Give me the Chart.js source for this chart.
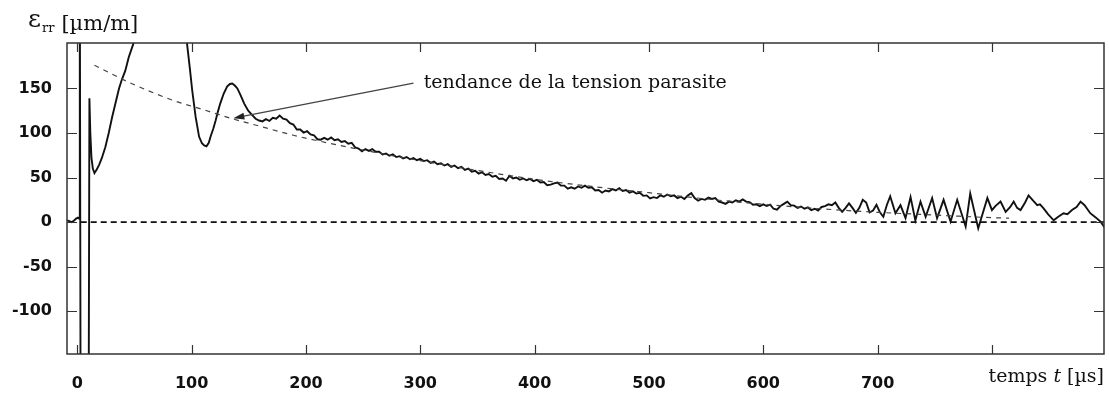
<!DOCTYPE html>
<html>
<head>
<meta charset="utf-8">
<script src="https://cdn.jsdelivr.net/npm/chart.js@4.4.0/dist/chart.umd.min.js"></script>
<style>
  html, body { margin: 0; padding: 0; background: #fff; }
  #wrap { width: 1109px; height: 399px; }
</style>
</head>
<body>
<div id="wrap"><canvas id="strainChart" width="1109" height="399"></canvas></div>
<script>
// measured strain, time in µs
var sigT = [
  -9, -7, -5, -3, -1, 0.5, 1.5, 2.2, 3.0, 9.8, 10.6, 11.4, 12.4, 13.6, 15, 17, 19, 21.5,
  24.5, 27.5, 30.5, 33.5, 36.5, 39, 42, 45, 49, 55, 62, 70, 78, 86, 92, 96, 98.5, 100.5,
  103.5, 106.5, 109, 111, 113, 115, 116.6, 119, 121, 123, 125, 128, 131, 133.5, 135.6, 138,
  140, 143, 146, 149.5, 153, 156, 159,
  162, 165, 168, 171, 174, 177, 180, 183, 186, 189, 192, 195, 198, 201, 204, 207, 210, 213,
  216, 219, 222, 225, 228, 231, 234, 237, 240, 243, 246, 249, 252, 255, 258, 261, 264, 267,
  270, 273, 276, 279, 282, 285, 288, 291, 294, 297, 300, 303, 306, 309, 312, 315, 318, 321,
  324, 327, 330, 333, 336, 339, 342, 345, 348, 351, 354, 357, 360, 363, 366, 369, 372, 375,
  378, 381, 384, 387, 390, 393, 396, 399, 402, 405, 408, 411, 414, 417, 420, 423, 426, 429,
  432, 435, 438, 441, 444, 447, 450, 453, 456, 459, 462, 465, 468, 471, 474, 477, 480, 483,
  486, 489, 492, 495, 498, 501, 504, 507, 510, 513, 516, 519, 522, 525, 528, 531, 534, 537,
  540, 543, 546, 549, 552, 555, 558, 561, 564, 567, 570, 573, 576, 579, 582, 585, 588, 591,
  594, 597, 600, 603, 606, 609, 612, 615, 618, 621, 624, 627, 630, 633, 636, 639, 642, 645,
  648, 651, 654, 657, 660, 663, 666, 669, 672, 675, 678, 681, 684, 687, 690, 693, 696, 699,
  702, 705, 708, 711,
  715.6, 720, 724.4, 728.8, 733, 737.5, 742, 747.7, 752, 757.7, 763.8, 769.6, 777, 781, 788,
  796, 800, 803, 807.5, 812, 816, 819, 822, 825, 829, 832, 836, 839.6, 842, 845, 849, 854,
  858, 862.6, 866, 870, 874, 877.5, 881, 886, 891, 895, 899
];
var sigV = [
  2, 1, 0, 1.5, 4, 5, 4, 300, -300, -300, 139, 100, 72, 60, 55, 59, 64, 72,
  84, 100, 118, 134, 150, 160, 170, 185, 200, 240, 270, 285, 280, 255, 225, 200, 172, 148,
  118, 96, 88.5, 86, 85, 89, 96, 105, 114, 124, 133, 144, 152, 155, 155.5, 153,
  150, 142, 133, 125, 120, 116, 114,
  113, 115.5, 113.5, 117, 116, 119.5, 116, 115, 111, 109.5, 104, 104, 100.5, 102, 98.5, 97.5, 93, 92.5,
  94.5, 92.5, 95, 92, 93, 90, 91, 88, 89, 84, 82.5, 79.5, 82, 80, 82, 79, 79, 76,
  77, 74.5, 76, 73, 74, 71.5, 73, 70.5, 72, 69.5, 71, 68.5, 69.5, 66.5, 68, 65, 66, 63.5,
  65, 62, 63.5, 60.5, 62, 58.5, 60, 56.5, 57.5, 54.5, 56, 53, 54, 51, 52, 48.5, 49, 46.5,
  52, 49, 50, 47.5, 49, 47, 48.5, 46, 47.5, 44.5, 45, 41.5, 42, 43.5, 44.5, 41, 41, 37.5,
  39, 37.5, 40, 38.5, 41, 38.5, 39, 35.5, 36, 33, 35.5, 34.5, 37, 35.5, 38, 35, 36, 33,
  34.5, 32, 33, 29.5, 30, 26.5, 28, 27, 30, 28.5, 31, 29, 30, 27, 28.5, 26, 30, 32.5,
  27, 24, 26, 25, 27.5, 26, 27, 23, 22, 20.5, 23, 22, 24.5, 23, 25.5, 23, 22.5, 19.5,
  20, 18, 20, 18, 19.5, 15, 14, 18, 20.5, 23, 19, 18.5, 16, 17.5, 15, 16.5, 13.5, 15,
  13, 17, 18, 20, 19, 22, 16, 11.5, 16, 21, 16, 10.5, 16, 25, 22, 11, 13, 19.5,
  11, 6, 19, 29,
  10, 19, 4.5, 28, 2, 23, 6, 27, 4.5, 25, 0.5, 25, -5, 32, -7,
  27, 13.5, 18, 23, 11.5, 17, 23, 16, 13.5, 22, 30, 24, 19, 20, 15.7, 9, 2,
  6, 10, 9, 13.5, 17, 23, 19, 10, 5, 0.5, -7
];

// fitted trend of the parasitic strain
var trendT = [15, 45, 83, 112, 133, 160, 189, 230, 270, 300, 350, 400, 450, 500, 550, 600, 650, 700, 750, 800, 815];
var trendV = [176, 157, 137, 125.5, 117, 107.5, 97.5, 86, 76, 69, 58, 48, 40, 33, 26, 20, 15, 11, 8, 5, 4.5];

// zero reference
var zeroT = [3, 899];
var zeroV = [0, 0];

var xTicks = [0, 100, 200, 300, 400, 500, 600, 700, 800];
var yTicks = [-100, -50, 0, 50, 100, 150];

var annoText = 'tendance de la tension parasite';
var annoLabel = [303, 150];
var annoFrom = [294, 156];
var annoTo = [136.5, 116.6];

function pairs(ts, vs) {
    return ts.map(function(t, i) { return {x: t, y: vs[i]}; });
}

var decorPlugin = {
    id: 'decor',
    afterDatasetsDraw: function(chart) {
        var ctx = chart.ctx;
        var a = chart.chartArea;
        var xs = chart.scales.x, ys = chart.scales.y;
        ctx.save();

        // frame and inward ticks on all four sides
        ctx.strokeStyle = '#333';
        ctx.lineWidth = 1.5;
        ctx.strokeRect(a.left, a.top, a.right - a.left, a.bottom - a.top);
        ctx.lineWidth = 1.2;
        ctx.beginPath();
        xTicks.forEach(function(v) {
            var px = Math.round(xs.getPixelForValue(v)) + 0.5;
            ctx.moveTo(px, a.bottom); ctx.lineTo(px, a.bottom - 9);
            ctx.moveTo(px, a.top); ctx.lineTo(px, a.top + 9);
        });
        yTicks.forEach(function(v) {
            var py = Math.round(ys.getPixelForValue(v)) + 0.5;
            ctx.moveTo(a.left, py); ctx.lineTo(a.left + 10, py);
            ctx.moveTo(a.right, py); ctx.lineTo(a.right - 10, py);
        });
        ctx.stroke();

        // arrow to the trend line
        var x0 = xs.getPixelForValue(annoFrom[0]), y0 = ys.getPixelForValue(annoFrom[1]);
        var x1 = xs.getPixelForValue(annoTo[0]), y1 = ys.getPixelForValue(annoTo[1]);
        var ang = Math.atan2(y1 - y0, x1 - x0);
        ctx.strokeStyle = '#444';
        ctx.fillStyle = '#222';
        ctx.lineWidth = 1.4;
        ctx.beginPath();
        ctx.moveTo(x0, y0);
        ctx.lineTo(x1 - 8 * Math.cos(ang), y1 - 8 * Math.sin(ang));
        ctx.stroke();
        ctx.beginPath();
        ctx.moveTo(x1, y1);
        ctx.lineTo(x1 - 11 * Math.cos(ang) + 3.5 * Math.sin(ang), y1 - 11 * Math.sin(ang) - 3.5 * Math.cos(ang));
        ctx.lineTo(x1 - 11 * Math.cos(ang) - 3.5 * Math.sin(ang), y1 - 11 * Math.sin(ang) + 3.5 * Math.cos(ang));
        ctx.closePath();
        ctx.fill();

        ctx.fillStyle = '#111';
        ctx.textBaseline = 'alphabetic';
        ctx.textAlign = 'left';
        ctx.font = '19px "DejaVu Serif"';
        ctx.fillText(annoText, xs.getPixelForValue(annoLabel[0]), ys.getPixelForValue(annoLabel[1]));

        // y axis title: ε_rr [µm/m]
        var x = 28;
        ctx.font = '25px "DejaVu Serif"';
        ctx.fillText('ε', x, 27);
        x += ctx.measureText('ε').width + 1;
        ctx.font = '13px "DejaVu Serif"';
        ctx.fillText('rr', x, 32);
        x += ctx.measureText('rr').width + 7;
        ctx.font = '21px "DejaVu Serif"';
        ctx.fillText('[µm/m]', x, 30);

        // x axis title, right aligned on the tick label row
        var parts = [['temps ', '19px "DejaVu Serif"'], ['t', 'italic 19px "DejaVu Serif"'], [' [µs]', '19px "DejaVu Serif"']];
        var total = 0;
        parts.forEach(function(p) { ctx.font = p[1]; total += ctx.measureText(p[0]).width; });
        x = a.right - total;
        parts.forEach(function(p) {
            ctx.font = p[1];
            ctx.fillText(p[0], x, 382);
            x += ctx.measureText(p[0]).width;
        });

        ctx.restore();
    }
};

var ctx = document.getElementById('strainChart');
var strainChart = new Chart(ctx, {
    type: 'line',
    data: {
        datasets: [{
            data: pairs(zeroT, zeroV),
            borderColor: '#111',
            borderWidth: 1.6,
            borderDash: [6, 4],
            pointRadius: 0
        }, {
            data: pairs(trendT, trendV),
            borderColor: '#444',
            borderWidth: 1.2,
            borderDash: [5, 5],
            pointRadius: 0,
            cubicInterpolationMode: 'monotone'
        }, {
            data: pairs(sigT, sigV),
            borderColor: '#111',
            borderWidth: 1.9,
            pointRadius: 0,
            tension: 0
        }]
    },
    plugins: [decorPlugin],
    options: {
        responsive: false,
        animation: false,
        devicePixelRatio: 1,
        layout: { padding: { top: 43, right: 5, left: 0, bottom: 0 } },
        plugins: { legend: { display: false }, tooltip: { enabled: false } },
        scales: {
            x: {
                type: 'linear',
                min: -9,
                max: 898,
                grid: { display: false, drawTicks: false },
                border: { display: false },
                afterBuildTicks: function(scale) {
                    scale.ticks = xTicks.map(function(v) { return {value: v}; });
                },
                afterFit: function(scale) { scale.height = 45; },
                ticks: {
                    padding: 20,
                    maxRotation: 0,
                    autoSkip: false,
                    color: '#111',
                    font: { family: 'DejaVu Sans', size: 16, weight: 'bold' },
                    callback: function(v) { return v === 800 ? '' : String(v); }
                }
            },
            y: {
                type: 'linear',
                min: -148,
                max: 201,
                grid: { display: false, drawTicks: false },
                border: { display: false },
                afterBuildTicks: function(scale) {
                    scale.ticks = yTicks.map(function(v) { return {value: v}; });
                },
                afterFit: function(scale) { scale.width = 67; },
                ticks: {
                    padding: 15,
                    color: '#111',
                    font: { family: 'DejaVu Sans', size: 16, weight: 'bold' },
                    callback: function(v) { return String(v); }
                }
            }
        }
    }
});
</script>
</body>
</html>
